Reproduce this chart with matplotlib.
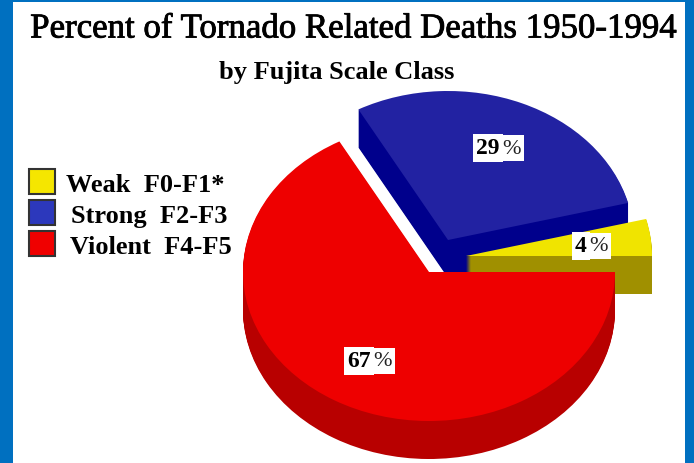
import numpy as np
import matplotlib
matplotlib.use('Agg')
import matplotlib.pyplot as plt
from matplotlib.patches import Wedge, Rectangle
from matplotlib.patheffects import withStroke
from matplotlib.transforms import Affine2D

title = 'Percent of Tornado Related Deaths 1950-1994'
subtitle = 'by Fujita Scale Class'
labels = ['Weak  F0-F1*', 'Strong  F2-F3', 'Violent  F4-F5']
percents = [4, 29, 67]

top_colors = ['#f0e400', '#2222a2', '#ee0000']
side_colors = ['#a09000', '#00008c', '#b80000']
legend_colors = ['#f5e600', '#2c38bc', '#f00000']
centers = [(466, 207), (448, 223), (429, 191)]  # pixels from the bottom
label_pos = [(588, 217), (501, 315), (372, 102)]
legend_y = [281, 250, 219]
legend_text_x = [66, 71, 70]
draw_order = [1, 0, 2]  # yellow sits in front of blue

RX = 186
RY = 149
DEPTH = 38

fig = plt.figure(figsize=(6.94, 4.64), dpi=100, facecolor='#0070c0')
ax = fig.add_axes([0, 0, 1, 1])
ax.set_xlim(0, 694)
ax.set_ylim(0, 464)
ax.axis('off')
ax.add_patch(Rectangle((13, 0), 672, 461, fc='white', ec='none', zorder=0))

edges = np.concatenate([[0], np.cumsum(percents)]) * 3.6
for z, i in enumerate(draw_order):
    cx, cy = centers[i]
    # stack of dark wedges makes the side wall
    for d in range(DEPTH, 0, -1):
        tr = Affine2D().scale(RX, RY).translate(cx, cy - d) + ax.transData
        ax.add_patch(Wedge((0, 0), 1, edges[i], edges[i + 1], fc=side_colors[i], ec='none', transform=tr, zorder=2 + z))
    tr = Affine2D().scale(RX, RY).translate(cx, cy) + ax.transData
    ax.add_patch(Wedge((0, 0), 1, edges[i], edges[i + 1], fc=top_colors[i], ec='none', transform=tr, zorder=2 + z))

for i, p in enumerate(percents):
    x, y = label_pos[i]
    ax.text(x + 1, y, '%', ha='left', va='center', family='Liberation Serif', fontsize=16, color='#222222', bbox=dict(fc='white', ec='none', pad=2.8), zorder=10)
    ax.text(x - 1, y, str(p), ha='right', va='center', family='Liberation Serif', fontweight='bold', fontsize=17, color='black', bbox=dict(fc='white', ec='none', pad=2.2), zorder=11)

t = ax.text(354, 434, title, ha='center', va='center', family='Liberation Serif', fontsize=25.1, color='black')
t.set_path_effects([withStroke(linewidth=0.6, foreground='black')])
ax.text(337, 391, subtitle, ha='center', va='center', family='Liberation Serif', fontweight='bold', fontsize=19, color='black')

for i, lab in enumerate(labels):
    ax.add_patch(Rectangle((29, legend_y[i] - 12), 26, 25, fc=legend_colors[i], ec='#333333', lw=1.5, zorder=5))
    ax.text(legend_text_x[i], legend_y[i] - 3, lab, ha='left', va='center', family='Liberation Serif', fontweight='bold', fontsize=19, color='black')

fig.savefig('out.png', dpi=100, facecolor=fig.get_facecolor())
